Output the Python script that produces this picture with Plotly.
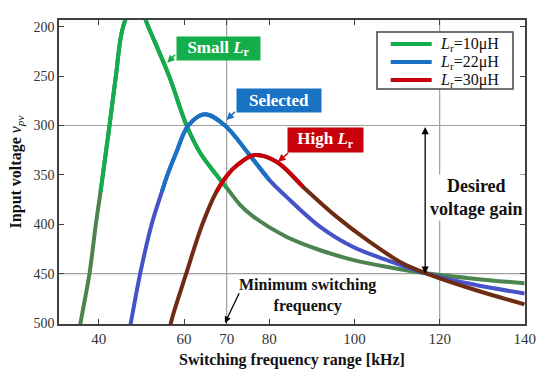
import numpy as np
import plotly.graph_objects as go

# ---------------- data ----------------
f_10 = [35.2, 35.7, 37.8, 39.3, 40.4, 42.5, 44.0, 45.7, 48.8, 51.6, 56.5, 60.6, 63.7, 67.6, 70.0,
        73.1, 76.2, 84.0, 91.8, 99.6, 107.5, 116.8, 128.0, 139.9]
v_10 = [515, 500, 450, 400, 367, 300, 250, 200, 172, 200, 250, 300, 327, 350, 363,
        380, 392, 412.6, 426, 436, 443, 449.6, 455, 459.7]

f_22 = [47.05, 47.5, 49.7, 52.4, 54.8, 56.1, 58.2, 61.0, 64.9, 69.6, 75.4, 80.0, 84.0, 91.8,
        99.6, 107.5, 116.8, 128.0, 139.9]
v_22 = [510, 500, 450, 400, 367, 350, 327, 300, 288.7, 300, 330, 355, 372, 402,
        422.7, 436, 449.6, 461, 470]

f_30 = [56.6, 56.9, 60.5, 64.3, 67.6, 70.2, 72.5, 76.6, 81.7, 87.9, 95.7, 103.5, 111.3,
        116.8, 128.0, 139.9]
v_30 = [510, 500, 450, 400, 367, 350, 340, 329.9, 336.6, 362, 392, 417.6, 439.5,
        449.6, 466, 481]

series_names = ["<i>L</i><sub>r</sub>=10μH", "<i>L</i><sub>r</sub>=22μH", "<i>L</i><sub>r</sub>=30μH"]
x_ticks = [40, 60, 70, 80, 100, 120, 140]
y_ticks = [200, 250, 300, 350, 400, 450, 500]
grid_x = [70, 120]
grid_y = [300, 450]

# ---------------- style ----------------
FONT = "Liberation Serif"
bright = ["#13ad4b", "#1a72c4", "#c8000a"]
dark = ["#4c8450", "#4652c8", "#6e2c12"]
split_v = 367

fig = go.Figure()
for fx, vy, name, cb, cd in zip([f_10, f_22, f_30], [v_10, v_22, v_30], series_names, bright, dark):
    fx = np.array(fx)
    vy = np.array(vy)
    fig.add_trace(go.Scatter(x=fx, y=vy, mode="lines", line=dict(color=cd, width=4, shape="spline"),
                             showlegend=False, hoverinfo="skip"))
    m = vy <= split_v
    fig.add_trace(go.Scatter(x=fx[m], y=vy[m], mode="lines", name=name, showlegend=False,
                             line=dict(color=cb, width=4, shape="spline")))

shapes = []
for gx in grid_x:
    shapes.append(dict(type="line", xref="x", yref="paper", x0=gx, x1=gx, y0=0, y1=1,
                       line=dict(color="#a0a0a0", width=1.2), layer="below"))
for gy in grid_y:
    shapes.append(dict(type="line", xref="paper", yref="y", x0=0, x1=1, y0=gy, y1=gy,
                       line=dict(color="#a0a0a0", width=1.2), layer="below"))

ann = []

# ---- legend (drawn as a framed key in the upper right) ----
leg_x0, leg_x1, leg_y0, leg_y1 = 0.6824, 0.9742, 0.773, 0.9605
shapes.append(dict(type="rect", xref="paper", yref="paper", x0=leg_x0, x1=leg_x1, y0=leg_y0, y1=leg_y1,
                   line=dict(color="#444", width=1.5), fillcolor="white", layer="above"))
row_y = [0.921, 0.8618, 0.8026]
for ry, name, cb in zip(row_y, series_names, bright):
    shapes.append(dict(type="line", xref="paper", yref="paper", x0=0.7118, x1=0.7998, y0=ry, y1=ry,
                       line=dict(color=cb, width=4), layer="above"))
    ann.append(dict(x=0.8133, y=ry, xref="paper", yref="paper", text=name, showarrow=False,
                    xanchor="left", yanchor="middle", font=dict(family=FONT, size=16, color="#111")))

def box(x, y, text, bg, w, h):
    return dict(x=x, y=y, xref="x", yref="y", text="<b>" + text + "</b>", showarrow=False,
                font=dict(family=FONT, size=17, color="white"), bgcolor=bg,
                width=w, height=h, borderpad=1, align="center", valign="middle")

ann.append(box(68.04, 221.6, "Small <i>L</i><sub>r</sub>", bright[0], 81, 21))
ann.append(box(82.22, 274.7, "Selected", bright[1], 82, 21))
ann.append(box(93.11, 314.7, "High <i>L</i><sub>r</sub>", bright[2], 73, 22))

def arrow(x, y, ax, ay, color, side="end", w=1.5, size=1.0):
    return dict(x=x, y=y, ax=ax, ay=ay, xref="x", yref="y", axref="x", ayref="y", text="",
                showarrow=True, arrowhead=2, arrowsize=size, arrowwidth=w, arrowcolor=color,
                arrowside=side, standoff=0, startstandoff=0)

ann.append(arrow(56.05, 236.4, 58.25, 227.0, bright[0]))
ann.append(arrow(69.96, 294.4, 72.3, 284.5, bright[1]))
ann.append(arrow(82.06, 336.6, 84.8, 326.5, bright[2]))
ann.append(arrow(69.6, 500.0, 73.1, 468.2, "black", w=1.3))
ann.append(dict(x=116.6, y=450, ax=116.6, ay=300, xref="x", yref="y", axref="x", ayref="y",
                text="", showarrow=True, arrowhead=2, arrowsize=1.1, arrowwidth=1.3,
                arrowcolor="black", arrowside="end+start", standoff=0, startstandoff=0))

ann.append(dict(x=128.6, y=372.4, xref="x", yref="y", text="<b>Desired<br>voltage gain</b>",
                showarrow=False, bgcolor="white", font=dict(family=FONT, size=18, color="#111")))
ann.append(dict(x=88.9, y=471.6, xref="x", yref="y", text="<b>Minimum switching<br>frequency</b>",
                showarrow=False, font=dict(family=FONT, size=16, color="#111")))

axis_common = dict(showgrid=False, zeroline=False, showline=True, linecolor="#404040", linewidth=1.5,
                   mirror="ticks", ticks="inside", ticklen=5, tickwidth=1.2, tickcolor="#404040",
                   automargin=False)

fig.update_layout(
    width=550, height=376,
    margin=dict(l=59, r=25, t=20, b=52, autoexpand=False),
    paper_bgcolor="white", plot_bgcolor="white",
    font=dict(family=FONT, color="#333"),
    shapes=shapes, annotations=ann,
    xaxis=dict(range=[30.65, 140.03], tickvals=x_ticks, tickfont=dict(family=FONT, size=15, color="#333"),
               title=dict(text="<b>Switching frequency range [kHz]</b>", standoff=8,
                          font=dict(family=FONT, size=16, color="#111")), **axis_common),
    yaxis=dict(range=[500.9, 193.2], tickvals=y_ticks, tickfont=dict(family=FONT, size=14, color="#333"),
               title=dict(text="<b>Input voltage </b><i>v</i><sub><i>pv</i></sub>", standoff=8,
                          font=dict(family=FONT, size=16, color="#111")), **axis_common),
    showlegend=False,
)

fig.write_html("out.html", config={"displayModeBar": False},
               post_script="document.body.style.margin='0px';")
